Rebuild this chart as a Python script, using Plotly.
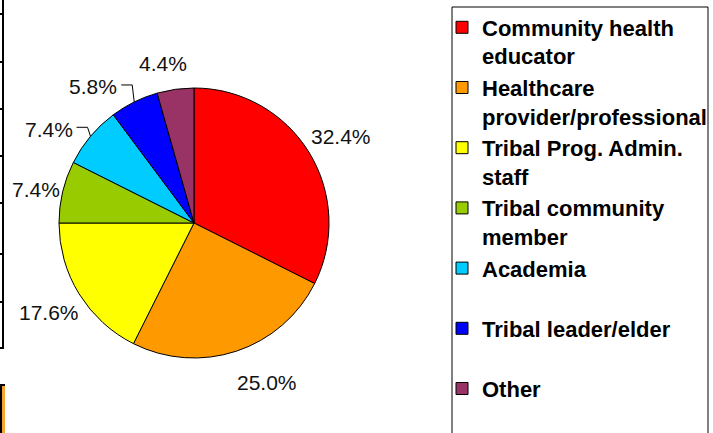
import math
import plotly.graph_objects as go

# ---------------- data ----------------
categories = [
    "Community health<br>educator",
    "Healthcare<br>provider/professional",
    "Tribal Prog. Admin.<br>staff",
    "Tribal community<br>member",
    "Academia<br>\u00a0",
    "Tribal leader/elder<br>\u00a0",
    "Other",
]
values = [32.4, 25.0, 17.6, 7.4, 7.4, 5.8, 4.4]
value_labels = ["32.4%", "25.0%", "17.6%", "7.4%", "7.4%", "5.8%", "4.4%"]
colors = ["#FF0000", "#FF9900", "#FFFF00", "#99CC00", "#00CCFF", "#0000FF", "#993366"]

# ---------------- geometry / style ----------------
W, H = 713, 433
cx, cy, R = 194, 223, 135
# label centre offsets (px) from the slice's outer edge at its mid-angle
label_offsets = [(32, -16), (30, 31), (-30, 19), (-27, -2), (-42, -7), (-41, -15), (-12, -26)]
leader_for = [False, False, False, False, True, True, False]


def px(x):
    return x / W


def py(y):
    return 1 - y / H


fig = go.Figure()
fig.add_trace(go.Pie(
    labels=categories,
    values=values,
    sort=False,
    direction="clockwise",
    rotation=0,
    textinfo="none",
    hoverinfo="label+percent",
    marker=dict(colors=colors, line=dict(color="#000000", width=1)),
    domain=dict(x=[px(cx - R), px(cx + R)], y=[py(cy + R), py(cy - R)]),
    showlegend=True,
))

annotations = []
shapes = []
total = sum(values)
cum = 0.0
for v, lab, off, lead in zip(values, value_labels, label_offsets, leader_for):
    mid = (cum + v / 2) / total * 2 * math.pi
    cum += v
    ex = cx + R * math.sin(mid)
    ey = cy - R * math.cos(mid)
    lx, ly = ex + off[0], ey + off[1]
    annotations.append(dict(
        x=px(lx), y=py(ly), xref="paper", yref="paper",
        text=lab, showarrow=False, xanchor="center", yanchor="middle",
        font=dict(family="Liberation Sans, Arial", size=21, color="#111111"),
    ))
    if lead:
        sx, sy = lx + 28, ly - 2
        kx = sx + 11
        shapes.append(dict(
            type="path", xref="paper", yref="paper",
            path=f"M {px(sx)},{py(sy)} L {px(kx)},{py(sy)} L {px(ex)},{py(ey)}",
            line=dict(color="#000000", width=1),
        ))

# legend frame (extends past the bottom edge)
shapes.append(dict(type="rect", xref="paper", yref="paper",
                   x0=px(452), x1=px(708), y0=py(7), y1=py(470),
                   line=dict(color="#000000", width=1), fillcolor="rgba(0,0,0,0)"))

# remnants of neighbouring chart at the left edge
shapes.append(dict(type="line", xref="paper", yref="paper",
                   x0=px(3), x1=px(3), y0=py(0), y1=py(348),
                   line=dict(color="#000000", width=2)))
for ty in [14, 62, 109, 156, 203, 254, 302, 348]:
    shapes.append(dict(type="line", xref="paper", yref="paper",
                       x0=px(0), x1=px(4), y0=py(ty), y1=py(ty),
                       line=dict(color="#000000", width=2)))
shapes.append(dict(type="rect", xref="paper", yref="paper",
                   x0=px(2), x1=px(5), y0=py(386), y1=py(440),
                   line=dict(width=0), fillcolor="#F5A431"))
shapes.append(dict(type="rect", xref="paper", yref="paper",
                   x0=px(0), x1=px(2), y0=py(384), y1=py(440),
                   line=dict(width=0), fillcolor="#000000"))
shapes.append(dict(type="rect", xref="paper", yref="paper",
                   x0=px(0), x1=px(5), y0=py(384), y1=py(386),
                   line=dict(width=0), fillcolor="#000000"))

fig.update_layout(
    width=W, height=H,
    margin=dict(l=0, r=0, t=0, b=0),
    paper_bgcolor="#FFFFFF",
    plot_bgcolor="#FFFFFF",
    annotations=annotations,
    shapes=shapes,
    legend=dict(
        x=px(442), y=py(6.5), xanchor="left", yanchor="top",
        font=dict(family="Liberation Sans, Arial", size=22, color="#000000", weight="bold"),
        bgcolor="rgba(0,0,0,0)", borderwidth=0, valign="top",
        tracegroupgap=0,
    ),
)

fig.write_html(
    "out.html",
    config={"displayModeBar": False},
    post_script="document.body.style.margin='0px';document.body.style.overflow='hidden';",
)
